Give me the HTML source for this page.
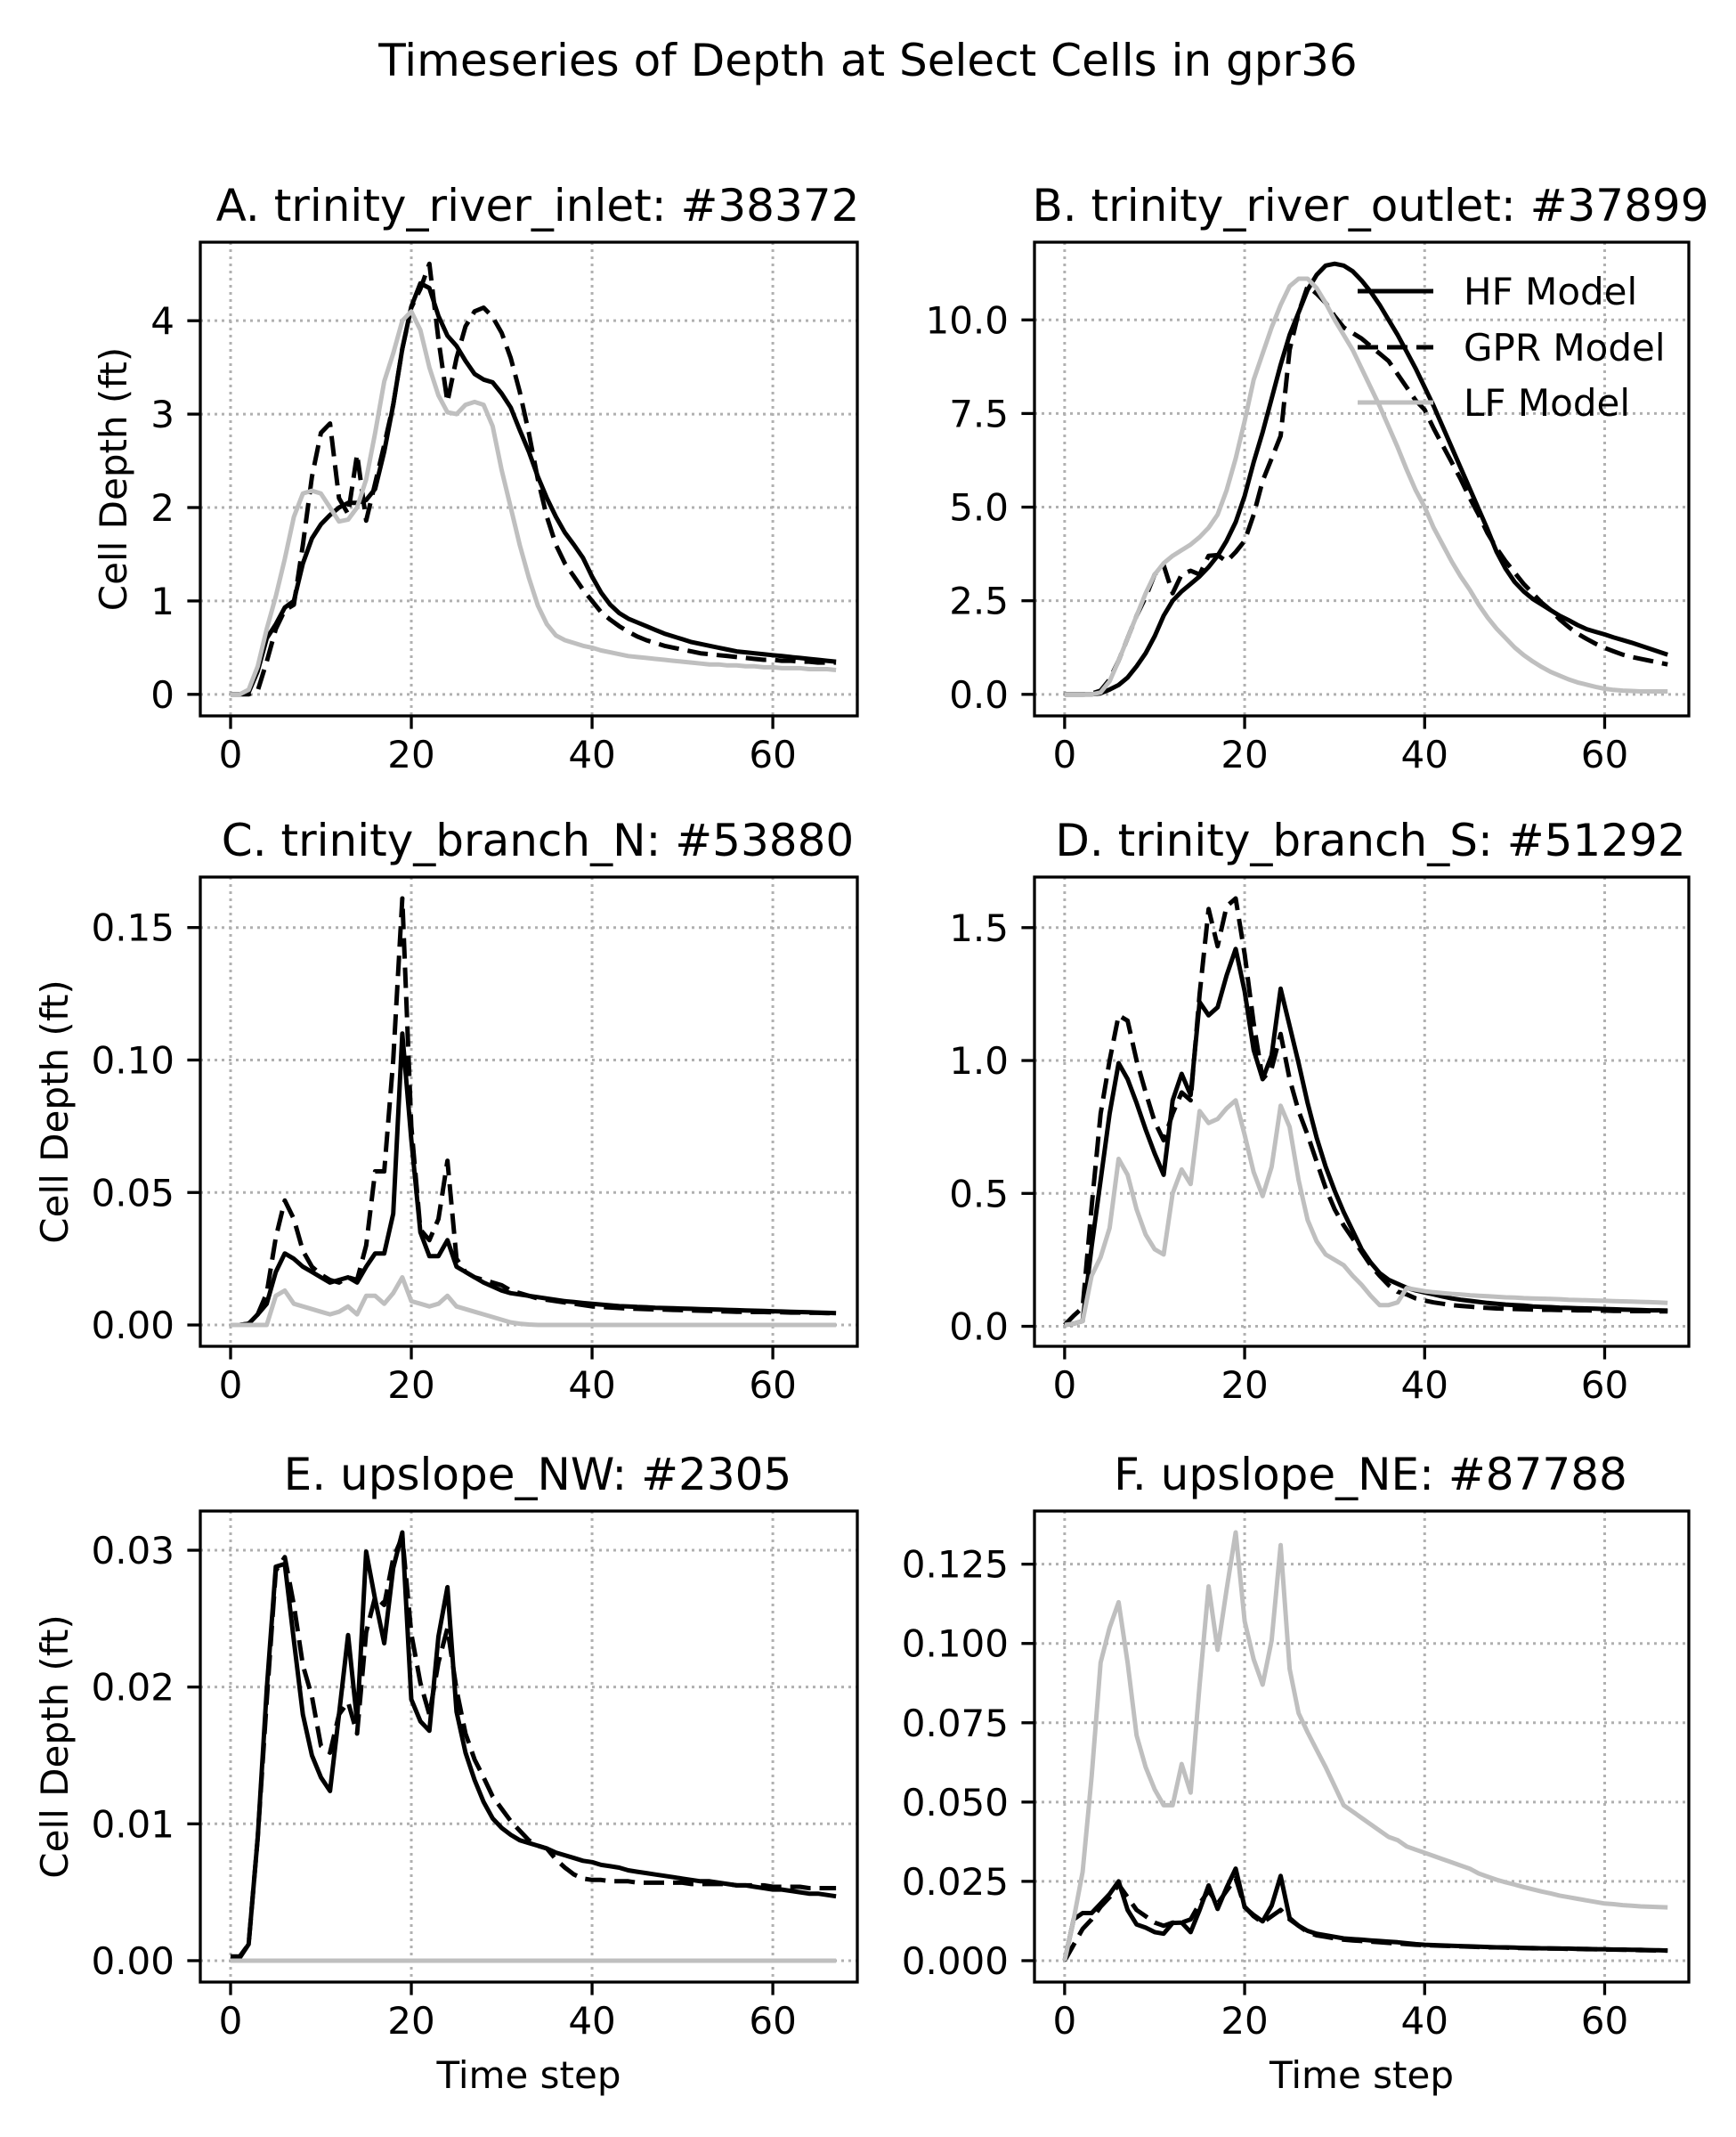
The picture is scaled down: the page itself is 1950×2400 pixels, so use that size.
<!DOCTYPE html>
<html><head><meta charset="utf-8">
<style>
html,body{margin:0;padding:0;background:#fff;}
svg{display:block;font-family:"DejaVu Sans","Liberation Sans",sans-serif;}
</style></head>
<body>
<svg id="fig" xmlns="http://www.w3.org/2000/svg" width="1950" height="2400" viewBox="0 0 1950 2400">
<rect x="0" y="0" width="1950" height="2400" fill="#fff"/>
<text x="975" y="85" font-size="50" text-anchor="middle">Timeseries of Depth at Select Cells in gpr36</text>
</svg>
<script>
const timeSteps = Array.from({length:68},(_,i)=>i);
const xTicks = [0,20,40,60];
const xTickLabels = ["0","20","40","60"];

const hfA = [0,0,0.02,0.25,0.6,0.75,0.93,1.0,1.4,1.67,1.82,1.92,2.0,2.05,2.05,2.08,2.2,2.6,3.1,3.7,4.15,4.4,4.35,4.05,3.84,3.73,3.57,3.43,3.37,3.34,3.22,3.07,2.83,2.6,2.33,2.1,1.9,1.73,1.6,1.46,1.26,1.09,0.96,0.87,0.81,0.77,0.73,0.69,0.65,0.62,0.59,0.56,0.54,0.52,0.5,0.48,0.46,0.45,0.44,0.43,0.42,0.41,0.4,0.39,0.38,0.37,0.36,0.35];
const gprA = [0,0,0,0.04,0.35,0.7,0.9,0.96,1.6,2.33,2.8,2.9,2.1,1.93,2.57,1.86,2.26,2.67,3.1,3.7,4.14,4.34,4.61,3.8,3.13,3.6,3.94,4.1,4.14,4.04,3.87,3.6,3.24,2.8,2.3,1.9,1.6,1.4,1.26,1.12,1.0,0.88,0.8,0.73,0.67,0.62,0.58,0.55,0.52,0.5,0.48,0.46,0.44,0.43,0.42,0.41,0.4,0.39,0.38,0.37,0.37,0.36,0.36,0.35,0.35,0.34,0.34,0.34];
const lfA = [0,0,0.05,0.3,0.7,1.05,1.45,1.9,2.15,2.18,2.15,2.0,1.85,1.87,2.0,2.3,2.8,3.35,3.65,4.0,4.1,3.9,3.5,3.2,3.02,3.0,3.1,3.13,3.1,2.87,2.4,2.0,1.6,1.25,0.95,0.75,0.63,0.58,0.55,0.52,0.5,0.47,0.45,0.43,0.41,0.4,0.39,0.38,0.37,0.36,0.35,0.34,0.33,0.32,0.32,0.31,0.31,0.3,0.3,0.29,0.29,0.28,0.28,0.28,0.27,0.27,0.27,0.26];

const hfB = [0,0,0,0,0.03,0.13,0.25,0.45,0.75,1.1,1.55,2.1,2.5,2.75,2.95,3.15,3.4,3.7,4.1,4.6,5.3,6.2,7.0,7.9,8.8,9.6,10.2,10.8,11.2,11.45,11.5,11.45,11.3,11.05,10.75,10.4,10.0,9.6,9.15,8.7,8.2,7.7,7.15,6.6,6.05,5.5,4.95,4.4,3.8,3.35,3.0,2.75,2.55,2.4,2.25,2.1,1.98,1.85,1.74,1.67,1.6,1.52,1.45,1.38,1.3,1.22,1.14,1.06];
const gprB = [0,0,0,0.02,0.1,0.4,0.9,1.5,2.1,2.6,3.2,3.45,2.7,3.2,3.3,3.2,3.7,3.72,3.55,3.8,4.1,4.8,5.7,6.3,6.9,9.2,10.2,10.9,10.7,10.45,10.1,9.8,9.65,9.5,9.3,9.1,8.9,8.55,8.2,7.85,7.6,7.1,6.65,6.2,5.75,5.25,4.8,4.3,3.9,3.55,3.25,2.95,2.7,2.45,2.25,2.0,1.8,1.62,1.48,1.35,1.24,1.15,1.06,1.0,0.95,0.9,0.85,0.8];
const lfB = [0,0,0,0,0.05,0.35,0.9,1.5,2.1,2.7,3.2,3.5,3.7,3.85,4.0,4.2,4.45,4.8,5.45,6.3,7.3,8.4,9.1,9.8,10.4,10.9,11.1,11.1,10.85,10.45,10.0,9.6,9.2,8.7,8.2,7.7,7.15,6.6,6.0,5.45,5.0,4.45,4.0,3.55,3.15,2.8,2.4,2.05,1.75,1.5,1.25,1.05,0.88,0.73,0.6,0.5,0.4,0.32,0.26,0.2,0.15,0.12,0.1,0.09,0.08,0.08,0.08,0.08];

const hfC = [0,0,0.0005,0.004,0.008,0.02,0.027,0.025,0.022,0.02,0.018,0.016,0.017,0.018,0.016,0.022,0.027,0.027,0.042,0.11,0.07,0.035,0.026,0.026,0.032,0.022,0.02,0.018,0.016,0.0145,0.013,0.012,0.0115,0.011,0.0105,0.01,0.0095,0.009,0.0087,0.0083,0.008,0.0077,0.0074,0.0071,0.007,0.0068,0.0067,0.0065,0.0064,0.0063,0.0062,0.0061,0.006,0.0059,0.0058,0.0057,0.0056,0.0055,0.0054,0.0053,0.0052,0.0051,0.005,0.0049,0.0048,0.0047,0.0046,0.0045];
const gprC = [0,0,0.0005,0.004,0.012,0.033,0.047,0.04,0.028,0.022,0.019,0.017,0.016,0.018,0.017,0.03,0.058,0.058,0.1,0.161,0.075,0.036,0.032,0.04,0.062,0.025,0.02,0.018,0.017,0.016,0.015,0.013,0.012,0.011,0.01,0.0095,0.009,0.0085,0.008,0.0075,0.007,0.0068,0.0066,0.0064,0.0062,0.0061,0.006,0.0059,0.0058,0.0057,0.0056,0.0055,0.0054,0.0053,0.0052,0.0051,0.005,0.005,0.0049,0.0049,0.0048,0.0048,0.0047,0.0047,0.0046,0.0046,0.0045,0.0045];
const lfC = [0,0,0,0,0,0.011,0.013,0.008,0.007,0.006,0.005,0.004,0.005,0.007,0.004,0.011,0.011,0.008,0.012,0.018,0.009,0.008,0.007,0.008,0.011,0.007,0.006,0.005,0.004,0.003,0.002,0.001,0.0005,0.0002,0,0,0,0,0,0,0,0,0,0,0,0,0,0,0,0,0,0,0,0,0,0,0,0,0,0,0,0,0,0,0,0,0,0];

const hfD = [0.005,0.01,0.02,0.3,0.55,0.8,0.99,0.93,0.84,0.74,0.65,0.57,0.85,0.95,0.87,1.22,1.17,1.2,1.32,1.42,1.26,1.04,0.93,1.02,1.27,1.13,0.99,0.84,0.71,0.6,0.51,0.43,0.36,0.29,0.24,0.2,0.175,0.16,0.145,0.135,0.127,0.12,0.112,0.105,0.1,0.096,0.092,0.088,0.085,0.082,0.08,0.078,0.075,0.073,0.072,0.07,0.069,0.068,0.067,0.066,0.065,0.064,0.063,0.062,0.061,0.06,0.06,0.059];
const gprD = [0.005,0.04,0.07,0.45,0.8,1.0,1.17,1.15,1.0,0.88,0.77,0.7,0.8,0.88,0.85,1.25,1.57,1.43,1.58,1.61,1.4,1.14,0.93,0.97,1.1,0.93,0.81,0.72,0.62,0.52,0.44,0.38,0.33,0.28,0.23,0.19,0.155,0.13,0.12,0.105,0.097,0.09,0.085,0.08,0.077,0.074,0.071,0.069,0.067,0.066,0.065,0.064,0.063,0.062,0.062,0.061,0.061,0.06,0.06,0.059,0.059,0.058,0.058,0.057,0.057,0.057,0.056,0.056];
const lfD = [0.005,0.01,0.02,0.19,0.26,0.37,0.63,0.57,0.44,0.345,0.29,0.27,0.5,0.59,0.535,0.81,0.765,0.78,0.82,0.85,0.72,0.58,0.49,0.6,0.83,0.75,0.55,0.4,0.32,0.27,0.25,0.23,0.19,0.156,0.115,0.08,0.08,0.09,0.144,0.138,0.132,0.128,0.125,0.122,0.12,0.117,0.115,0.113,0.111,0.109,0.108,0.106,0.105,0.104,0.103,0.102,0.1,0.099,0.098,0.097,0.096,0.095,0.094,0.093,0.092,0.091,0.09,0.088];

const hfE = [0.0003,0.0002,0.0012,0.009,0.0198,0.0288,0.029,0.0234,0.018,0.015,0.0134,0.0124,0.018,0.0238,0.0175,0.0299,0.0264,0.0232,0.0287,0.0313,0.0191,0.0175,0.0168,0.0237,0.0273,0.0182,0.0152,0.0132,0.0116,0.0104,0.0097,0.0092,0.0088,0.0086,0.0084,0.0082,0.0079,0.0077,0.0075,0.0073,0.0072,0.007,0.0069,0.0068,0.0066,0.0065,0.0064,0.0063,0.0062,0.0061,0.006,0.0059,0.0058,0.0058,0.0057,0.0056,0.0055,0.0055,0.0054,0.0053,0.0052,0.0052,0.0051,0.005,0.0049,0.0049,0.0048,0.0047];
const gprE = [0.0003,0.0003,0.0012,0.009,0.019,0.0285,0.0295,0.026,0.0216,0.0193,0.0157,0.0152,0.018,0.0189,0.0166,0.024,0.0266,0.026,0.0294,0.031,0.0239,0.0203,0.018,0.0218,0.0243,0.0198,0.0166,0.0147,0.0134,0.012,0.0111,0.0102,0.0095,0.0088,0.0084,0.0082,0.0074,0.0068,0.0063,0.006,0.0059,0.0059,0.0058,0.0058,0.0058,0.0057,0.0057,0.0057,0.0057,0.0057,0.0057,0.0056,0.0056,0.0056,0.0056,0.0056,0.0055,0.0055,0.0055,0.0055,0.0054,0.0054,0.0054,0.0054,0.0053,0.0053,0.0053,0.0053];
const lfE = [0,0,0,0,0,0,0,0,0,0,0,0,0,0,0,0,0,0,0,0,0,0,0,0,0,0,0,0,0,0,0,0,0,0,0,0,0,0,0,0,0,0,0,0,0,0,0,0,0,0,0,0,0,0,0,0,0,0,0,0,0,0,0,0,0,0,0,0];

const hfF = [0,0.013,0.015,0.015,0.018,0.021,0.025,0.016,0.0114,0.0104,0.009,0.0085,0.0119,0.012,0.009,0.016,0.0237,0.0163,0.023,0.029,0.0168,0.0144,0.0124,0.0173,0.0267,0.0134,0.011,0.0094,0.0085,0.008,0.0075,0.007,0.0068,0.0066,0.0064,0.0062,0.006,0.0058,0.0055,0.0052,0.005,0.0049,0.0048,0.0047,0.0046,0.0045,0.0044,0.0043,0.0042,0.0042,0.0041,0.004,0.004,0.0039,0.0039,0.0038,0.0038,0.0037,0.0037,0.0036,0.0036,0.0035,0.0035,0.0034,0.0034,0.0033,0.0033,0.0032];
const gprF = [0,0.005,0.01,0.013,0.017,0.02,0.024,0.02,0.016,0.014,0.012,0.011,0.012,0.012,0.013,0.018,0.022,0.018,0.022,0.026,0.017,0.014,0.012,0.014,0.016,0.013,0.011,0.009,0.008,0.0075,0.007,0.0066,0.0064,0.0062,0.006,0.0058,0.0056,0.0054,0.0052,0.005,0.0049,0.0048,0.0047,0.0046,0.0045,0.0044,0.0043,0.0042,0.0042,0.0041,0.004,0.004,0.0039,0.0039,0.0038,0.0038,0.0037,0.0037,0.0036,0.0036,0.0035,0.0035,0.0034,0.0034,0.0033,0.0033,0.0032,0.0032];
const lfF = [0,0.013,0.028,0.058,0.094,0.105,0.113,0.094,0.071,0.061,0.054,0.049,0.049,0.062,0.053,0.087,0.118,0.098,0.117,0.135,0.107,0.095,0.087,0.101,0.131,0.092,0.078,0.072,0.0665,0.061,0.055,0.049,0.047,0.045,0.043,0.041,0.039,0.038,0.036,0.035,0.034,0.033,0.032,0.031,0.03,0.029,0.0275,0.0265,0.0255,0.0247,0.024,0.0232,0.0225,0.0218,0.0212,0.0205,0.02,0.0195,0.019,0.0185,0.018,0.0178,0.0175,0.0173,0.0171,0.017,0.0169,0.0168];

const panelTitles = ["A. trinity_river_inlet: #38372","B. trinity_river_outlet: #37899","C. trinity_branch_N: #53880","D. trinity_branch_S: #51292","E. upslope_NW: #2305","F. upslope_NE: #87788"];
const yTicksA = [0,1,2,3,4]; const yLabelsA = ["0","1","2","3","4"];
const yTicksB = [0,2.5,5,7.5,10]; const yLabelsB = ["0.0","2.5","5.0","7.5","10.0"];
const yTicksC = [0,0.05,0.1,0.15]; const yLabelsC = ["0.00","0.05","0.10","0.15"];
const yTicksD = [0,0.5,1,1.5]; const yLabelsD = ["0.0","0.5","1.0","1.5"];
const yTicksE = [0,0.01,0.02,0.03]; const yLabelsE = ["0.00","0.01","0.02","0.03"];
const yTicksF = [0,0.025,0.05,0.075,0.1,0.125]; const yLabelsF = ["0.000","0.025","0.050","0.075","0.100","0.125"];
const legendLabels = ["HF Model","GPR Model","LF Model"];

const NS="http://www.w3.org/2000/svg";
const fig=document.getElementById('fig');
function mk(tag,attrs,parent){const e=document.createElementNS(NS,tag);for(const k in attrs)e.setAttribute(k,attrs[k]);(parent||fig).appendChild(e);return e;}

const cols=[[225,963],[1162,1897]];
const rows=[[272,804],[985,1512],[1697,2226]];
const yLabelX=[142,76,76];
const panels=[
 {hf:hfA,gpr:gprA,lf:lfA,yt:yTicksA,yl:yLabelsA,key:"a"},
 {hf:hfB,gpr:gprB,lf:lfB,yt:yTicksB,yl:yLabelsB,key:"b"},
 {hf:hfC,gpr:gprC,lf:lfC,yt:yTicksC,yl:yLabelsC,key:"c"},
 {hf:hfD,gpr:gprD,lf:lfD,yt:yTicksD,yl:yLabelsD,key:"d"},
 {hf:hfE,gpr:gprE,lf:lfE,yt:yTicksE,yl:yLabelsE,key:"e"},
 {hf:hfF,gpr:gprF,lf:lfF,yt:yTicksF,yl:yLabelsF,key:"f"}
];

panels.forEach((p,i)=>{
  const [L,R]=cols[i%2]; const r=Math.floor(i/2); const [T,B]=rows[r];
  const g=mk('g',{});
  
  
  const xmin=-3.35,xmax=69.35;
  const xs=v=>L+(v-xmin)/(xmax-xmin)*(R-L);
  const all=p.hf.concat(p.gpr,p.lf);
  const dmin=Math.min(...all),dmax=Math.max(...all);
  const pad=(dmax-dmin)*0.05;
  const ymin=dmin-pad,ymax=dmax+pad;
  const ys=v=>B-(v-ymin)/(ymax-ymin)*(B-T);
  xTicks.forEach((t,k)=>{
    const gl=mk('line',{x1:xs(t),x2:xs(t),y1:T,y2:B,stroke:'#b0b0b0','stroke-width':3,'stroke-dasharray':'3 5'},g);
    
    
    const tk=mk('line',{x1:xs(t),x2:xs(t),y1:B,y2:B+14.6,stroke:'#000','stroke-width':3.3},g);
    
    
    const tl=mk('text',{x:xs(t),y:B+58,'font-size':42,'text-anchor':'middle'},g);
    tl.textContent=xTickLabels[k];
    
    
  });
  p.yt.forEach((t,k)=>{
    const gl=mk('line',{x1:L,x2:R,y1:ys(t),y2:ys(t),stroke:'#b0b0b0','stroke-width':3,'stroke-dasharray':'3 5'},g);
    
    
    const tk=mk('line',{x1:L-14.6,x2:L,y1:ys(t),y2:ys(t),stroke:'#000','stroke-width':3.3},g);
    
    
    const tl=mk('text',{x:L-29,y:ys(t)+15,'font-size':42,'text-anchor':'end'},g);
    tl.textContent=p.yl[k];
    
    
  });
  const series=[[p.hf,'#000',null,'hf-line'],[p.gpr,'#000','23 10','gpr-line'],[p.lf,'#bfbfbf',null,'lf-line']];
  series.forEach(s=>{
    const d=s[0].map((v,j)=>(j?'L':'M')+xs(timeSteps[j]).toFixed(1)+' '+ys(v).toFixed(1)).join(' ');
    const a={d:d,fill:'none',stroke:s[1],'stroke-width':5,'stroke-linejoin':'round'};
    if(s[2])a['stroke-dasharray']=s[2];
    const pl=mk('path',a,g);
    
    
  });
  const fr=mk('rect',{x:L,y:T,width:R-L,height:B-T,fill:'none',stroke:'#000','stroke-width':3.3},g);
  
  
  const tt=mk('text',{x:(L+R)/2+10,y:T-24,'font-size':50,'text-anchor':'middle'},g);
  tt.textContent=panelTitles[i];
  
  
  if(i%2===0){
    const yl=mk('text',{x:0,y:0,'font-size':42,'text-anchor':'middle',transform:'translate('+yLabelX[r]+','+((T+B)/2)+') rotate(-90)'},g);
    yl.textContent='Cell Depth (ft)';
    
    
  }
  if(i>=4){
    const xl=mk('text',{x:(L+R)/2,y:2345,'font-size':42,'text-anchor':'middle'},g);
    xl.textContent='Time step';
    
    
  }
  if(i===1){
    const lg=mk('g',{},g);
    
    
    const sty=[['#000',null],['#000','23 10'],['#bfbfbf',null]];
    [327,390,452].forEach((yy,k)=>{
      const a={x1:1525,x2:1610,y1:yy,y2:yy,stroke:sty[k][0],'stroke-width':5};
      if(sty[k][1])a['stroke-dasharray']=sty[k][1];
      const ln=mk('line',a,lg);
      
      
      const tx=mk('text',{x:1644,y:yy+15,'font-size':42},lg);
      tx.textContent=legendLabels[k];
      
      
    });
  }
});
</script>
</body></html>
